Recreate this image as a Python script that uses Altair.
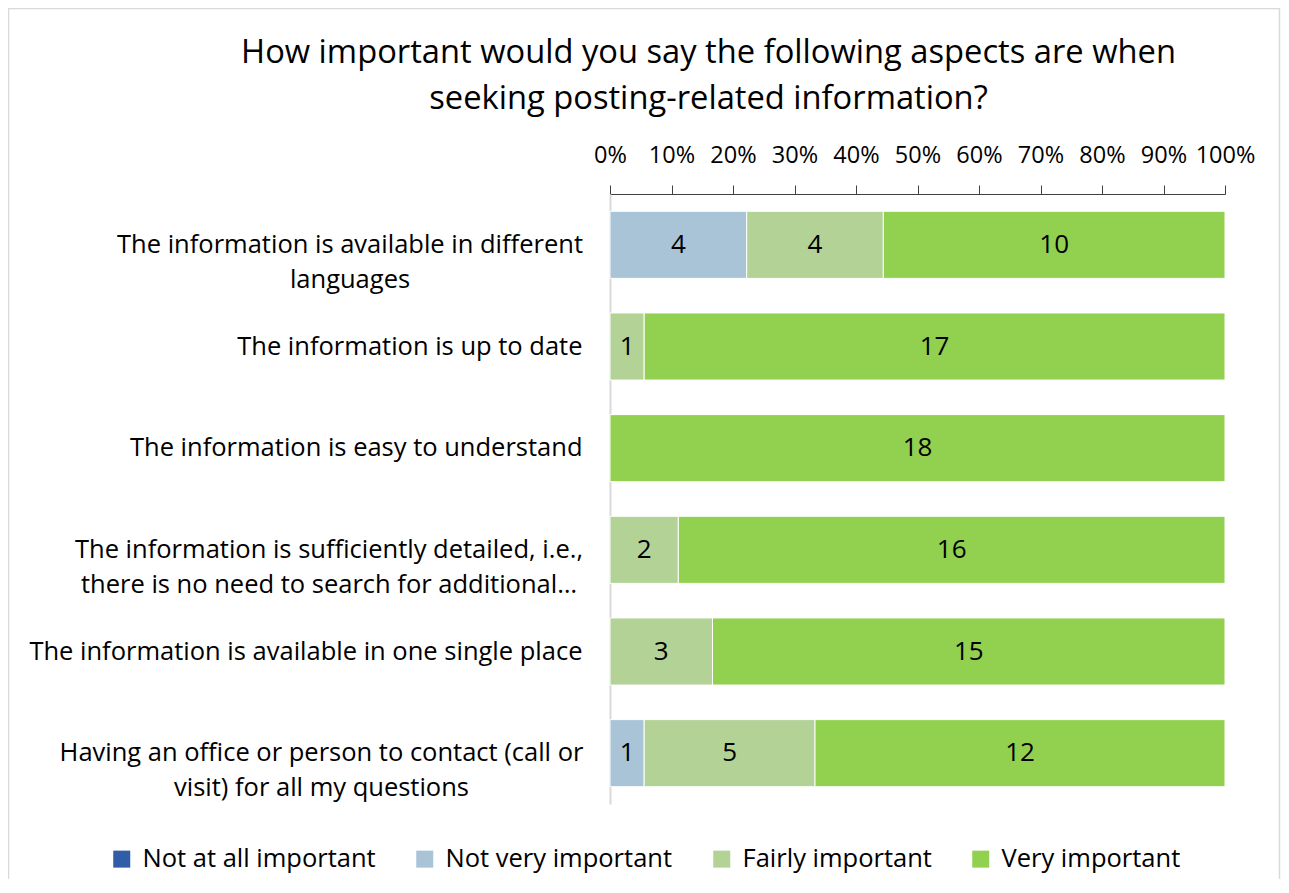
import altair as alt
import pandas as pd

aspects = [
    "The information is available in different|languages",
    "The information is up to date ",
    "The information is easy to understand",
    "The information is sufficiently detailed, i.e.,|there is no need to search for additional…",
    "The information is available in one single place",
    "Having an office or person to contact (call or|visit) for all my questions",
]
categories = ["Not at all important", "Not very important", "Fairly important", "Very important"]
colors = ["#2F5DA8", "#A9C4D7", "#B3D296", "#92D050"]

not_at_all = [0, 0, 0, 0, 0, 0]
not_very = [4, 0, 0, 0, 0, 1]
fairly = [4, 1, 0, 2, 3, 5]
very = [10, 17, 18, 16, 15, 12]

title_lines = [
    "How important would you say the following aspects are when",
    "seeking posting-related information?",
]

rows = []
for i, a in enumerate(aspects):
    for j, (cat, vals) in enumerate(zip(categories, [not_at_all, not_very, fairly, very])):
        rows.append({"aspect": a, "category": cat, "order": j, "count": vals[i]})
df = pd.DataFrame(rows)

FONT = "Open Sans"
BASE_PAD = 28
# half widths of the wider line of each two-line label (centred like the original)
half_widths = {aspects[0]: 232.5, aspects[3]: 253.5, aspects[5]: 261}

pad_conditions = [
    {"test": f"datum.value === '{k}'", "value": BASE_PAD + v} for k, v in half_widths.items()
]
align_conditions = [
    {"test": f"datum.value === '{k}'", "value": "center"} for k in half_widths
]

base = alt.Chart(df).transform_stack(
    stack="count",
    groupby=["aspect"],
    as_=["x0", "x1"],
    offset="normalize",
    sort=[alt.SortField("order", order="ascending")],
).transform_calculate(mid="(datum.x0 + datum.x1) / 2").transform_filter("datum.count > 0")

y_enc = alt.Y(
    "aspect:N",
    sort=aspects,
    title=None,
    scale=alt.Scale(paddingInner=0.34, paddingOuter=0.17),
    axis=alt.Axis(
        labelExpr="split(datum.label, '|')",
        labelFont=FONT,
        labelFontSize=25.5,
        labelColor="#000000",
        labelLineHeight=35,
        labelPadding={"condition": pad_conditions, "value": BASE_PAD},
        labelAlign={"condition": align_conditions, "value": "right"},
        labelLimit=700,
        ticks=False,
        domainColor="#D9D9D9",
        domainWidth=2,
    ),
)

bars = base.mark_bar(stroke="white", strokeWidth=1).encode(
    x=alt.X(
        "x0:Q",
        scale=alt.Scale(domain=[0, 1], nice=False),
        title=None,
        axis=alt.Axis(
            orient="top",
            format=".0%",
            values=[i / 10 for i in range(11)],
            labelFont=FONT,
            labelFontSize=23.5,
            labelColor="#000000",
            labelPadding=18,
            tickSize=9,
            tickColor="#404040",
            domainColor="#404040",
            grid=False,
            labelFlush=False,
        ),
    ),
    x2="x1:Q",
    y=y_enc,
    color=alt.Color(
        "category:N",
        scale=alt.Scale(domain=categories, range=colors),
        sort=categories,
        legend=alt.Legend(
            title=None,
            orient="none",
            direction="horizontal",
            legendX=-501,
            legendY=652,
            symbolType="square",
            symbolSize=289,
            symbolStrokeWidth=0,
            labelFont=FONT,
            labelFontSize=25.5,
            labelColor="#000000",
            labelOffset=8,
            columnPadding=36,
            labelLimit=400,
        ),
    ),
)

labels = base.mark_text(font=FONT, fontSize=26, color="#000000").encode(
    x=alt.X("mid:Q"),
    y=alt.Y("aspect:N", sort=aspects),
    text=alt.Text("count:Q"),
)

border = alt.Chart(alt.Data(values=[{}])).mark_rect(
    fill=None, stroke="#D9D9D9", strokeWidth=1.5, clip=False
).encode(
    x=alt.value(-601.5),
    x2=alt.value(669.5),
    y=alt.value(-185.5),
    y2=alt.value(720),
)

chart = alt.layer(border, bars, labels).properties(
    width=615,
    height=610,
    padding={"left": 602, "top": 186, "right": 56, "bottom": 75},
    autosize=alt.AutoSizeParams(type="none"),
    title=alt.TitleParams(
        text=title_lines,
        font=FONT,
        fontSize=32.7,
        fontWeight="normal",
        color="#000000",
        anchor="middle",
        frame="group",
        dx=-209,
        offset=-108,
        lineHeight=46,
    ),
).configure_view(stroke=None)

chart.save("out.html", embed_options={"renderer": "svg", "actions": False})
